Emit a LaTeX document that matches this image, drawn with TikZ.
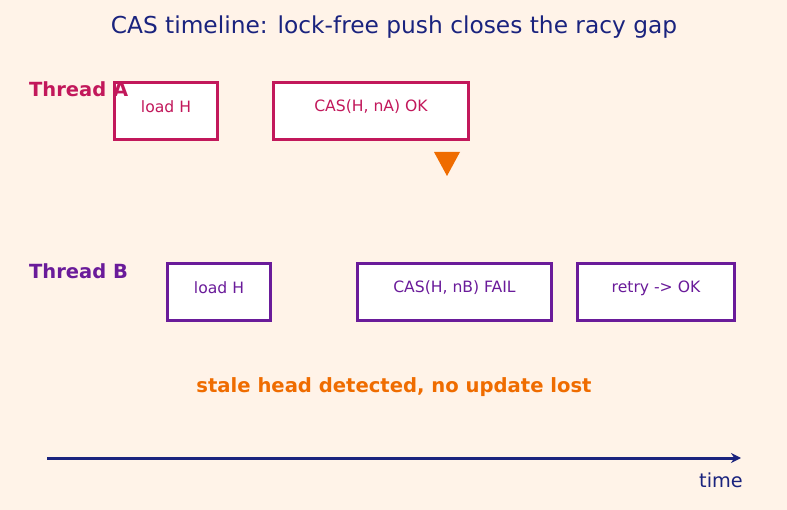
\documentclass[tikz,border=0pt]{standalone}
\usepackage{fontspec}
\setmainfont{DejaVu Sans}
\usetikzlibrary{arrows.meta}
\definecolor{bg}{HTML}{FFF3E8}
\definecolor{navy}{HTML}{1A237E}
\definecolor{crim}{HTML}{C2185B}
\definecolor{purp}{HTML}{6A1B9A}
\definecolor{orng}{HTML}{EF6C00}
\begin{document}
\begin{tikzpicture}[x=1pt,y=-1pt,
  boxA/.style={draw=crim,line width=2.8pt,fill=white,anchor=north west,inner sep=0pt,outer sep=0pt,minimum height=57.2pt},
  boxB/.style={draw=purp,line width=2.8pt,fill=white,anchor=north west,inner sep=0pt,outer sep=0pt,minimum height=57.2pt},
  btxt/.style={font=\fontsize{15.6}{18}\selectfont,inner sep=0pt},
  lbl/.style={font=\bfseries\fontsize{19.5}{22}\selectfont,anchor=base west,inner sep=0pt}]
\fill[bg] (0,0) rectangle (787,510);
\useasboundingbox (0,0) rectangle (787,510);
\node[text=navy,font=\fontsize{23.3}{26}\selectfont] (title) at (394,27.5) {CAS timeline: lock-free push closes the racy gap};
% boxes
\node[boxA,minimum width=103.2pt] (a1) at (114.4,82.4) {};
\node[btxt,text=crim] (a1t) at (166,107) {load H};
\node[boxA,minimum width=195.2pt] (a2) at (273.4,82.4) {};
\node[btxt,text=crim] (a2t) at (371,107) {CAS(H, nA) OK};
\node[lbl,text=crim] (ta) at (29,97) {Thread A};
\node[boxB,minimum width=103.2pt] (b1) at (167.4,263.4) {};
\node[btxt,text=purp] (b1t) at (219,288) {load H};
\node[boxB,minimum width=194.2pt] (b2) at (357.4,263.4) {};
\node[btxt,text=purp] (b2t) at (454.5,288) {CAS(H, nB) FAIL};
\node[boxB,minimum width=157.2pt] (b3) at (577.4,263.4) {};
\node[btxt,text=purp] (b3t) at (656,288) {retry -> OK};
\node[lbl,text=purp] (tb) at (29,279) {Thread B};
% triangle
\fill[orng] (434,152) -- (460,152) -- (447,176) -- cycle;
\node[text=orng,font=\bfseries\fontsize{19.6}{22}\selectfont] (note) at (394,387) {stale head detected, no update lost};
% time axis
\coordinate (t0) at (47,458);
\coordinate (t1) at (741,458);
\draw[navy,line width=3pt,-{Stealth[length=10pt,width=10pt]}] (t0) -- (t1);
\node[text=navy,font=\fontsize{19.3}{22}\selectfont,anchor=east,inner sep=0pt] (time) at (743,480) {time};
\end{tikzpicture}
\end{document}
